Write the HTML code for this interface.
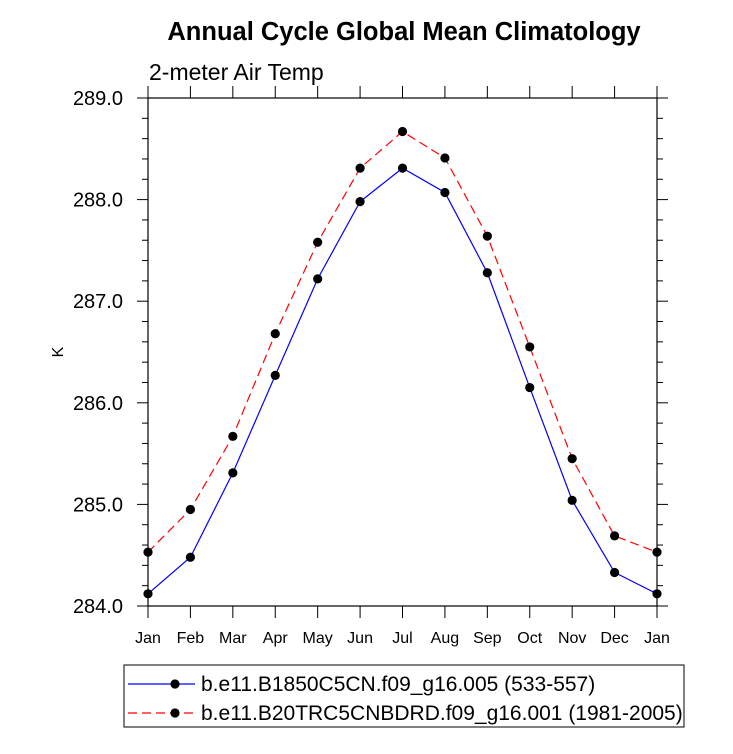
<!DOCTYPE html>
<html><head><meta charset="utf-8"><style>
body{margin:0;background:#fff;}
svg{display:block;font-family:"Liberation Sans",Arial,sans-serif;}
</style></head><body>
<svg id="chart" width="733" height="754" viewBox="0 0 733 754" xmlns="http://www.w3.org/2000/svg">
<text x="404" y="40" text-anchor="middle" font-size="25.5" font-weight="bold">Annual Cycle Global Mean Climatology</text>
<text x="149" y="80" font-size="23">2-meter Air Temp</text>
<text x="0" y="0" font-size="16" text-anchor="middle" transform="translate(63,352) rotate(-90)">K</text>
<rect x="148" y="98" width="509" height="508" fill="none" stroke="#000" stroke-width="1.2"/>
<g id="axes"></g>
<g id="series"></g>
<rect x="124" y="665" width="560" height="62" fill="none" stroke="#000" stroke-width="1"/>
<g>
<line x1="128" y1="684" x2="195" y2="684" stroke="#0000ff" stroke-width="1.2"/>
<circle cx="175" cy="684" r="4.6" fill="#000"/>
<text x="201" y="691" font-size="21">b.e11.B1850C5CN.f09_g16.005 (533-557)</text>
</g>
<g>
<line x1="128" y1="713" x2="195" y2="713" stroke="#ff0000" stroke-width="1.2" stroke-dasharray="9,5"/>
<circle cx="175" cy="713" r="4.6" fill="#000"/>
<text x="201" y="720" font-size="21">b.e11.B20TRC5CNBDRD.f09_g16.001 (1981-2005)</text>
</g>
</svg>
<script>
const months = ["Jan","Feb","Mar","Apr","May","Jun","Jul","Aug","Sep","Oct","Nov","Dec","Jan"];
const seriesB1850 = [284.12,284.48,285.31,286.27,287.22,287.98,288.31,288.07,287.28,286.15,285.04,284.33,284.12];
const seriesB20TR = [284.53,284.95,285.67,286.68,287.58,288.31,288.67,288.41,287.64,286.55,285.45,284.69,284.53];
const yTicks = ["284.0","285.0","286.0","287.0","288.0","289.0"];
const yMin = 284, yMax = 289;
const L=148,R=657,T=98,B=606;
const NS="http://www.w3.org/2000/svg";
function xS(i){return L+(R-L)*i/(months.length-1);}
function yS(v){return B-(B-T)*(v-yMin)/(yMax-yMin);}
function mk(tag,attrs,parent){const e=document.createElementNS(NS,tag);for(const k in attrs)e.setAttribute(k,attrs[k]);parent.appendChild(e);return e;}
const ax=document.getElementById('axes');
for(let v=yMin;v<=yMax+1e-6;v+=0.2){
  const y=yS(v);const major=Math.abs(v-Math.round(v))<1e-6;const len=major?11:6;
  const t1=mk('line',{x1:L,x2:L-len,y1:y,y2:y,stroke:'#000'},ax);
  
  
  const t2=mk('line',{x1:R,x2:R+len,y1:y,y2:y,stroke:'#000'},ax);
  
  
}
yTicks.forEach(s=>{
  const t=mk('text',{x:L-25,y:yS(parseFloat(s))+7,'text-anchor':'end','font-size':'20'},ax);
  t.textContent=s;
  
  
});
months.forEach((m,i)=>{
  const x=xS(i);
  const a=mk('line',{x1:x,x2:x,y1:B,y2:B+12,stroke:'#000'},ax);
  
  
  const b=mk('line',{x1:x,x2:x,y1:T,y2:T-12,stroke:'#000'},ax);
  
  
  const t=mk('text',{x:x,y:B+37,'text-anchor':'middle','font-size':'16'},ax);
  t.textContent=m;
  
  
});
const sg=document.getElementById('series');
function drawSeries(vals,color,dash,name){
  const pts=vals.map((v,i)=>xS(i)+','+yS(v)).join(' ');
  const pl=mk('polyline',{points:pts,fill:'none',stroke:color,'stroke-width':'1.2','stroke-dasharray':dash},sg);
  
  
  vals.forEach((v,i)=>{
    const c=mk('circle',{cx:xS(i),cy:yS(v),r:4.6,fill:'#000'},sg);
    
    
  });
}
drawSeries(seriesB1850,'#0000ff','none','b1850');
drawSeries(seriesB20TR,'#ff0000','9,5','b20tr');
</script>
</body></html>
